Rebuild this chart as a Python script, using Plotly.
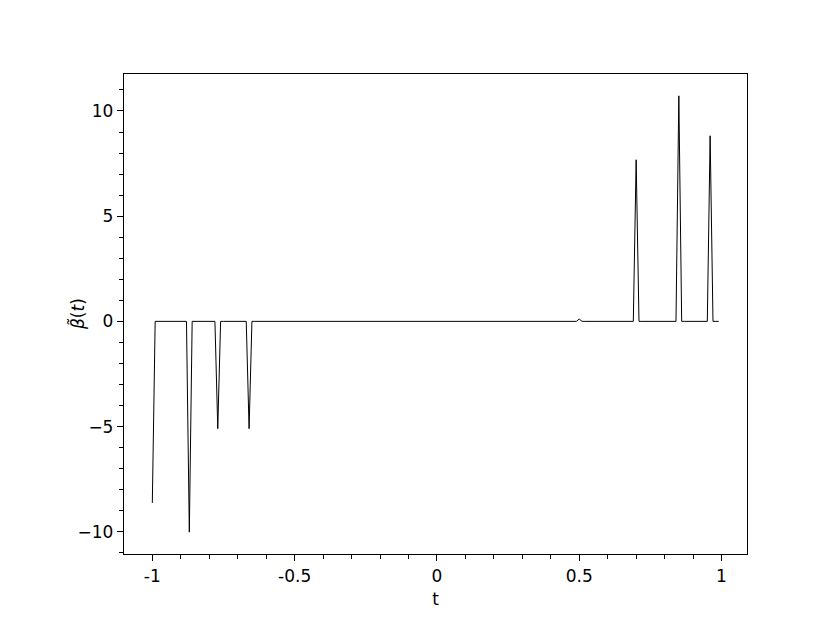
import numpy as np
import plotly.graph_objects as go

# Sample grid (t from -1 to 0.99, step 0.01)
t_values = np.round(np.arange(-100, 100) / 100.0, 2)

# Non-zero coefficients (all others are 0)
nonzero_t = [-1.00, -0.87, -0.77, -0.66, 0.50, 0.70, 0.85, 0.96]
nonzero_beta = [-8.63, -10.02, -5.10, -5.10, 0.11, 7.68, 10.72, 8.82]

x_tick_vals = [-1, -0.5, 0, 0.5, 1]
x_tick_text = ["-1", "-0.5", "0", "0.5", "1"]
y_tick_vals = [-10, -5, 0, 5, 10]
y_tick_text = ["\u221210", "\u22125", "0", "5", "10"]

beta = np.zeros(len(t_values))
for tv, bv in zip(nonzero_t, nonzero_beta):
    idx = int(np.argmin(np.abs(t_values - tv)))
    beta[idx] = bv

fig = go.Figure()
fig.add_trace(go.Scatter(
    x=t_values, y=beta, mode="lines",
    line=dict(color="black", width=1),
    showlegend=False, hoverinfo="skip",
))

xmin, xmax = -1.0, 0.99
xpad = 0.05 * (xmax - xmin)
ymin, ymax = min(beta.min(), 0), beta.max()
ypad = 0.05 * (ymax - ymin)

font = "DejaVu Sans, Verdana, sans-serif"
axis_common = dict(
    showline=True, mirror=True, linecolor="black", linewidth=1.3,
    showgrid=False, zeroline=False,
    ticks="outside", ticklen=6, tickwidth=1.3, tickcolor="black",
    tickfont=dict(family=font, size=17, color="black"),
)

# The page body has an 8px default margin, so margins are offset to compensate
fig.update_layout(
    width=830, height=623,
    margin=dict(l=116, r=91, t=66, b=77),
    paper_bgcolor="white", plot_bgcolor="white",
    xaxis=dict(
        range=[xmin - xpad, xmax + xpad],
        tickvals=x_tick_vals, ticktext=x_tick_text,
        minor=dict(dtick=0.1, tick0=0, ticks="outside", ticklen=3.5, tickwidth=1.1, tickcolor="black"),
        title=dict(text="t", font=dict(family=font, size=17, color="black"), standoff=8),
        **axis_common,
    ),
    yaxis=dict(
        range=[ymin - ypad, ymax + ypad],
        tickvals=y_tick_vals, ticktext=y_tick_text,
        minor=dict(dtick=1, tick0=0, ticks="outside", ticklen=3.5, tickwidth=1.1, tickcolor="black"),
        **axis_common,
    ),
    annotations=[dict(
        text="<i>\u03b2\u0303</i>(<i>t</i>)",
        xref="paper", yref="paper", x=0, y=0.5,
        xanchor="center", yanchor="middle", xshift=-47,
        textangle=-90, showarrow=False,
        font=dict(family=font, size=17, color="black"),
    )],
)

fig.write_html("out.html")
